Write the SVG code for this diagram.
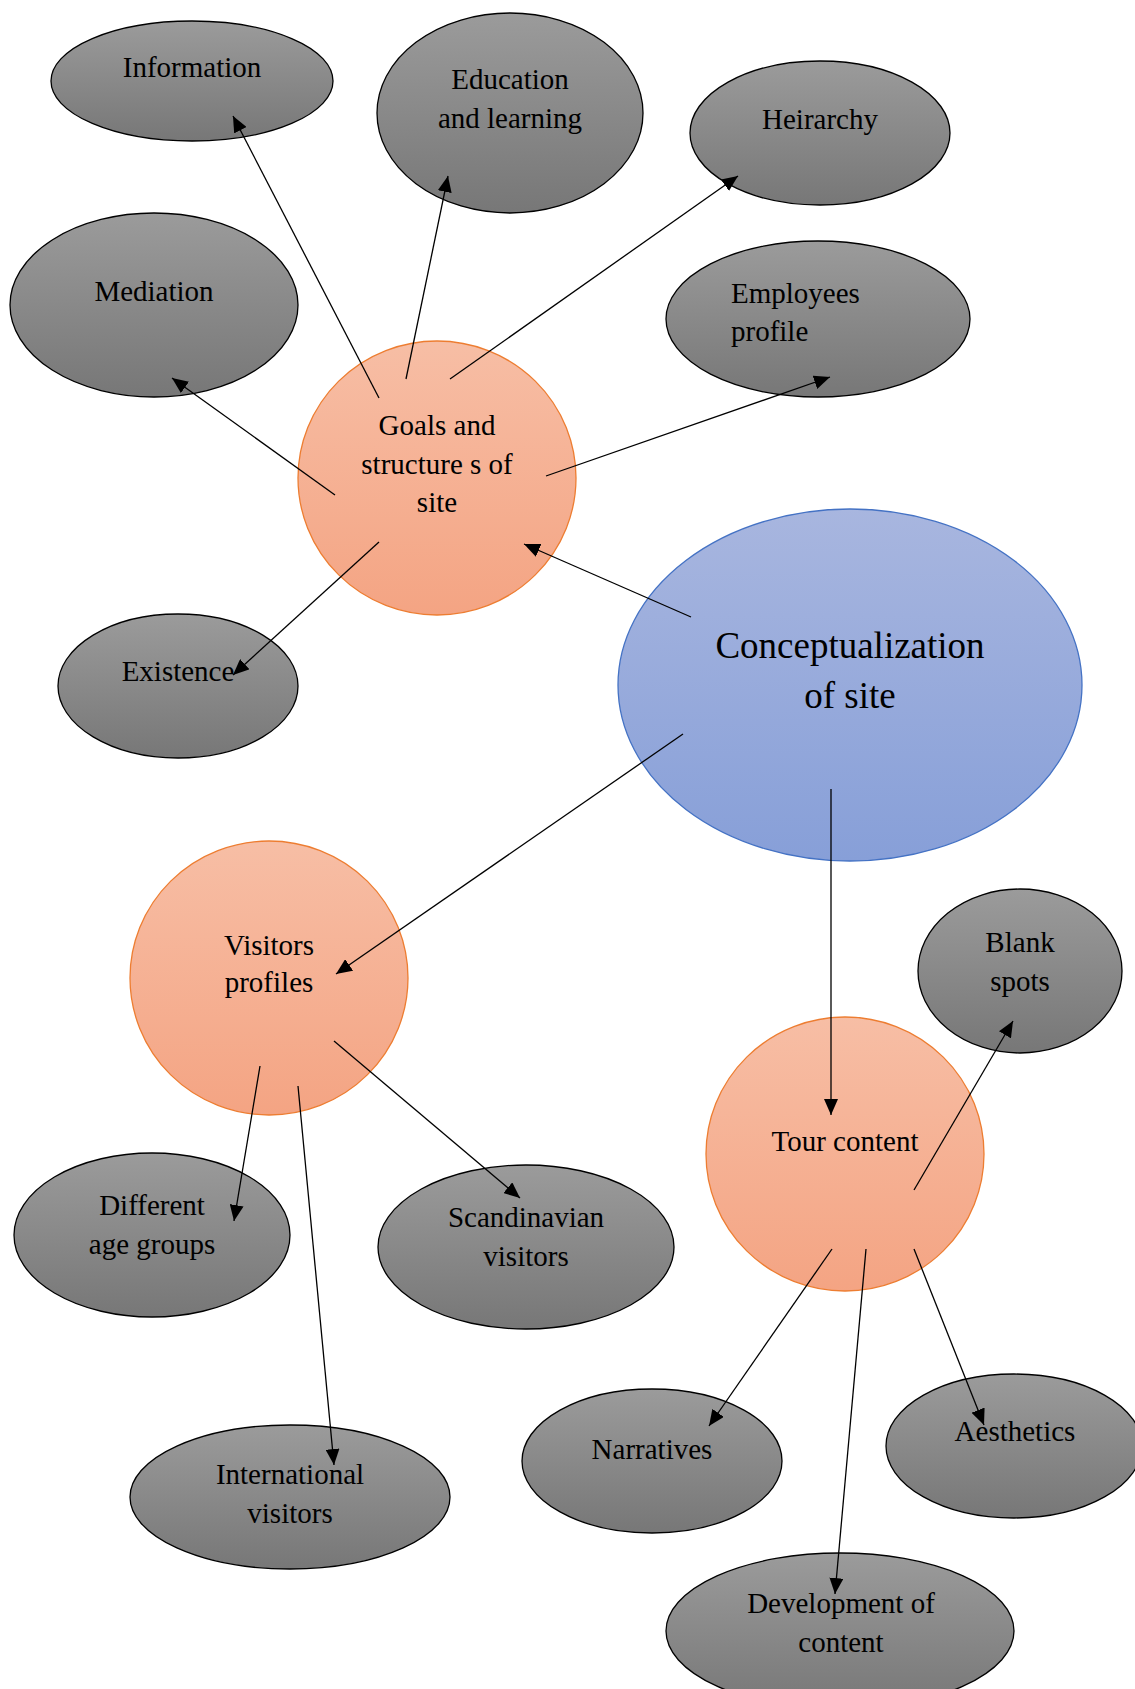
<svg xmlns="http://www.w3.org/2000/svg" width="1135" height="1689" viewBox="0 0 1135 1689">
<defs>
<linearGradient id="gGray" x1="0" y1="0" x2="0" y2="1">
<stop offset="0" stop-color="#9b9b9b"/>
<stop offset="1" stop-color="#777777"/>
</linearGradient>
<linearGradient id="gOrange" x1="0" y1="0" x2="0" y2="1">
<stop offset="0" stop-color="#f7bea5"/>
<stop offset="1" stop-color="#f4a483"/>
</linearGradient>
<linearGradient id="gBlue" x1="0" y1="0" x2="0" y2="1">
<stop offset="0" stop-color="#a8b6df"/>
<stop offset="1" stop-color="#879fd8"/>
</linearGradient>
<marker id="arr" markerUnits="userSpaceOnUse" markerWidth="18" markerHeight="14" refX="16" refY="7" orient="auto">
<path d="M0,0 L16,7 L0,14 z" fill="#000"/>
</marker>
</defs>
<style>
.gray{fill:url(#gGray);stroke:#000;stroke-width:1.3}
.orange{fill:url(#gOrange);stroke:#ed7d31;stroke-width:1.3}
.blue{fill:url(#gBlue);stroke:#4472c4;stroke-width:1.3}
text{font-family:"Liberation Serif","Times New Roman",serif;font-size:29px;fill:#000;text-anchor:middle}
.big{font-size:37px}
.conn line{stroke:#000;stroke-width:1.3;marker-end:url(#arr)}
</style>
<rect width="1135" height="1689" fill="#fff"/>
<g id="nodes">
<g id="information"><ellipse class="gray" cx="192" cy="81" rx="141" ry="60"/><text x="192" y="77">Information</text></g>
<g id="education"><ellipse class="gray" cx="510" cy="113" rx="133" ry="100"/><text x="510" y="89">Education</text><text x="510" y="128">and learning</text></g>
<g id="heirarchy"><ellipse class="gray" cx="820" cy="133" rx="130" ry="72"/><text x="820" y="129">Heirarchy</text></g>
<g id="employees"><ellipse class="gray" cx="818" cy="319" rx="152" ry="78"/><text x="731" y="303" style="text-anchor:start">Employees</text><text x="731" y="341" style="text-anchor:start">profile</text></g>
<g id="mediation"><ellipse class="gray" cx="154" cy="305" rx="144" ry="92"/><text x="154" y="301">Mediation</text></g>
<g id="goals"><ellipse class="orange" cx="437" cy="478" rx="139" ry="137"/><text x="437" y="435">Goals and</text><text x="437" y="474">structure s of</text><text x="437" y="512">site</text></g>
<g id="existence"><ellipse class="gray" cx="178" cy="686" rx="120" ry="72"/><text x="178" y="681">Existence</text></g>
<g id="conceptualization"><ellipse class="blue" cx="850" cy="685" rx="232" ry="176"/><text class="big" x="850" y="658">Conceptualization</text><text class="big" x="850" y="708">of site</text></g>
<g id="visitors"><ellipse class="orange" cx="269" cy="978" rx="139" ry="137"/><text x="269" y="955">Visitors</text><text x="269" y="992">profiles</text></g>
<g id="tour"><ellipse class="orange" cx="845" cy="1154" rx="139" ry="137"/><text x="845" y="1151">Tour content</text></g>
<g id="blank"><ellipse class="gray" cx="1020" cy="971" rx="102" ry="82"/><text x="1020" y="952">Blank</text><text x="1020" y="991">spots</text></g>
<g id="different"><ellipse class="gray" cx="152" cy="1235" rx="138" ry="82"/><text x="152" y="1215">Different</text><text x="152" y="1254">age groups</text></g>
<g id="scandinavian"><ellipse class="gray" cx="526" cy="1247" rx="148" ry="82"/><text x="526" y="1227">Scandinavian</text><text x="526" y="1266">visitors</text></g>
<g id="international"><ellipse class="gray" cx="290" cy="1497" rx="160" ry="72"/><text x="290" y="1484">International</text><text x="290" y="1523">visitors</text></g>
<g id="narratives"><ellipse class="gray" cx="652" cy="1461" rx="130" ry="72"/><text x="652" y="1459">Narratives</text></g>
<g id="aesthetics"><ellipse class="gray" cx="1014" cy="1446" rx="128" ry="72"/><text x="1015" y="1441">Aesthetics</text></g>
<g id="development"><ellipse class="gray" cx="840" cy="1631" rx="174" ry="78"/><text x="841" y="1613">Development of</text><text x="841" y="1652">content</text></g>
</g>
<g id="connectors" class="conn">
<line x1="379" y1="398" x2="233" y2="116"/>
<line x1="406" y1="379" x2="448" y2="176"/>
<line x1="450" y1="379" x2="738" y2="176"/>
<line x1="335" y1="495" x2="172" y2="378"/>
<line x1="546" y1="476" x2="830" y2="377"/>
<line x1="379" y1="542" x2="233" y2="675"/>
<line x1="691" y1="617" x2="524" y2="544"/>
<line x1="683" y1="734" x2="336" y2="974"/>
<line x1="831" y1="789" x2="831" y2="1115"/>
<line x1="260" y1="1066" x2="234" y2="1221"/>
<line x1="298" y1="1086" x2="334" y2="1465"/>
<line x1="334" y1="1041" x2="520" y2="1198"/>
<line x1="914" y1="1190" x2="1013" y2="1021"/>
<line x1="832" y1="1249" x2="709" y2="1426"/>
<line x1="866" y1="1249" x2="835" y2="1594"/>
<line x1="914" y1="1249" x2="984" y2="1425"/>
</g>
</svg>
